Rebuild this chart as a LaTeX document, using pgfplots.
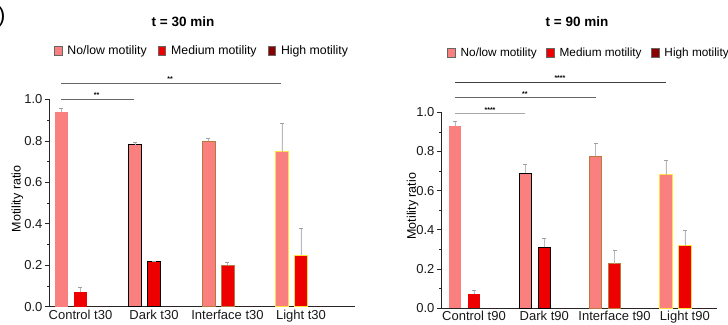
\documentclass[border=0pt]{standalone}
\usepackage{pgfplots}
\pgfplotsset{compat=1.18}
\usepackage{fontspec}
\setmainfont{Liberation Sans}
\definecolor{lowc}{HTML}{FA8080}
\definecolor{medc}{HTML}{EE0000}
\definecolor{highc}{HTML}{8B0000}
\definecolor{intc}{HTML}{B87840}
\definecolor{lightc}{HTML}{FFE040}
\pgfplotsset{
  mystyle/.style={
    scale only axis,
    axis x line*=bottom, axis y line*=left,
    axis line style={line width=0.6pt, black!85},
    ymin=0, ymax=1,
    ytick={0,0.2,0.4,0.6,0.8,1.0},
    minor ytick={0.1,0.3,0.5,0.7,0.9},
    yticklabel style={xshift=1pt, /pgf/number format/fixed, /pgf/number format/fixed zerofill, /pgf/number format/precision=1},
    /pgf/number format/assume math mode=true,
    tick align=outside, major tick length=4pt, minor tick length=2pt,
    tick style={black!85, line width=0.5pt},
    xtick={0,1,2,3}, xtick style={draw=none},
    tick label style={font=\fontsize{13}{13}\selectfont, black!90},
    xticklabel style={yshift=4.5pt},
    ylabel={Motility ratio},
    ylabel style={font=\fontsize{12.5}{13}\selectfont, at={(axis description cs:-0.103,0.52)}, anchor=center},
    clip=false,
    ybar, bar width=13pt,
    error bars/y dir=plus, error bars/y explicit,
    error bars/error bar style={gray!55, line width=0.45pt},
    error bars/error mark options={gray!75, rotate=90, mark size=2pt, line width=0.6pt},
    legend columns=3,
    legend style={draw=none, fill=none, inner sep=0pt, font=\fontsize{12.3}{12.5}\selectfont,
      /tikz/every odd column/.append style={column sep=3.5pt},
      /tikz/every even column/.append style={column sep=9pt}},
    legend image code/.code={\draw[#1, draw=black!60, line width=0.4pt] (0pt,-4pt) rectangle (7.5pt,4.5pt);},
  },
  lowbar/.style={fill=lowc, bar shift=-19pt},
  medbar/.style={fill=medc, bar shift=0pt},
  highbar/.style={fill=highc, draw=none, bar shift=19pt},
}
\begin{document}
\begin{tikzpicture}
\useasboundingbox (0,0) rectangle (728pt,324pt);
\node[anchor=east, font=\fontsize{22}{22}\selectfont] at (9pt,307pt) {)};
% ---------------- t = 30 min ----------------
\begin{axis}[mystyle,
  at={(49pt,17.3pt)}, anchor=south west,
  width=306pt, height=207.4pt,
  xmin=-0.4286, xmax=3.735,
  xticklabels={Control t30, Dark t30, Interface t30, Light t30},
  legend style={at={(axis description cs:0.016,1.233)}, anchor=west},
]
\addlegendimage{fill=lowc}\addlegendentry{No/low motility}
\addlegendimage{fill=medc}\addlegendentry{Medium motility}
\addlegendimage{fill=highc}\addlegendentry{High motility}
% No/low motility
\addplot[lowbar, draw=none] coordinates {(0,0.940) +- (0,0.017)};
\addplot[lowbar, draw=black, line width=0.9pt] coordinates {(1,0.780) +- (0,0.013)};
\addplot[lowbar, draw=intc, line width=0.9pt] coordinates {(2,0.799) +- (0,0.012)};
\addplot[lowbar, draw=lightc, line width=0.9pt] coordinates {(3,0.747) +- (0,0.137)};
% Medium motility
\addplot[medbar, draw=none] coordinates {(0,0.069) +- (0,0.024)};
\addplot[medbar, draw=black, line width=0.9pt] coordinates {(1,0.220) +- (0,0.0)};
\addplot[medbar, draw=intc, line width=0.9pt] coordinates {(2,0.199) +- (0,0.015)};
\addplot[medbar, draw=lightc, line width=0.9pt] coordinates {(3,0.249) +- (0,0.129)};
% High motility
\addplot[highbar] coordinates {(0,0) (1,0) (2,0) (3,0)};
% significance
\draw[gray!80!black, line width=0.6pt] (axis cs:-0.265,1.079) -- (axis cs:2.728,1.079);
\node[anchor=base, inner sep=0pt, font=\fontsize{7}{7}\selectfont\bfseries] at (axis cs:1.218,1.084) {**};
\draw[gray!80!black, line width=0.6pt] (axis cs:-0.265,1.0015) -- (axis cs:0.728,1.0015);
\node[anchor=base, inner sep=0pt, font=\fontsize{7}{7}\selectfont\bfseries] at (axis cs:0.22,1.007) {**};
\node[font=\fontsize{13.5}{14}\selectfont\bfseries] at (axis description cs:0.438,1.373) {t = 30 min};
\end{axis}
% ---------------- t = 90 min ----------------
\begin{axis}[mystyle,
  at={(441pt,16pt)}, anchor=south west,
  width=276pt, height=195.7pt,
  xmin=-0.469, xmax=3.457,
  bar width=12.5pt,
  xticklabels={Control t90, Dark t90, Interface t90, Light t90},
  legend style={at={(axis description cs:0.022,1.303)}, anchor=west,
    font=\fontsize{11.8}{12}\selectfont,
    /tikz/every even column/.append style={column sep=7.5pt}},
]
\addlegendimage{fill=lowc}\addlegendentry{No/low motility}
\addlegendimage{fill=medc}\addlegendentry{Medium motility}
\addlegendimage{fill=highc}\addlegendentry{High motility}
% No/low motility
\addplot[lowbar, draw=none] coordinates {(0,0.931) +- (0,0.021)};
\addplot[lowbar, draw=black, line width=0.9pt] coordinates {(1,0.690) +- (0,0.044)};
\addplot[lowbar, draw=intc, line width=0.9pt] coordinates {(2,0.775) +- (0,0.066)};
\addplot[lowbar, draw=lightc, line width=0.9pt] coordinates {(3,0.680) +- (0,0.076)};
% Medium motility
\addplot[medbar, draw=none] coordinates {(0,0.070) +- (0,0.020)};
\addplot[medbar, draw=black, line width=0.9pt] coordinates {(1,0.310) +- (0,0.046)};
\addplot[medbar, draw=intc, line width=0.9pt] coordinates {(2,0.226) +- (0,0.069)};
\addplot[medbar, draw=lightc, line width=0.9pt] coordinates {(3,0.318) +- (0,0.077)};
% High motility
\addplot[highbar] coordinates {(0,0) (1,0) (2,0) (3,0)};
% significance
\draw[black!75, line width=0.6pt] (axis cs:-0.27,1.155) -- (axis cs:2.731,1.155);
\node[anchor=base, inner sep=0pt, font=\fontsize{7}{7}\selectfont\bfseries] at (axis cs:1.223,1.16) {****};
\draw[gray!80!black, line width=1.1pt] (axis cs:-0.27,1.075) -- (axis cs:1.735,1.075);
\node[anchor=base, inner sep=0pt, font=\fontsize{7}{7}\selectfont\bfseries] at (axis cs:0.725,1.08) {**};
\draw[gray!70, line width=0.6pt] (axis cs:-0.27,0.995) -- (axis cs:0.725,0.995);
\node[anchor=base, inner sep=0pt, font=\fontsize{7}{7}\selectfont\bfseries] at (axis cs:0.228,1.0) {****};
\node[font=\fontsize{13.5}{14}\selectfont\bfseries] at (axis description cs:0.493,1.461) {t = 90 min};
\end{axis}
\end{tikzpicture}
\end{document}
